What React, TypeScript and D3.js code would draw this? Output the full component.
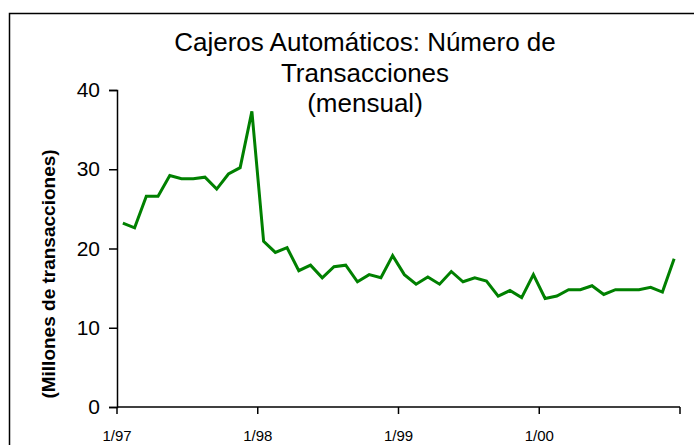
import { useEffect, useRef } from "react";
import * as d3 from "d3";

// monthly ATM transactions, millions, Jan 1997 - Dec 2000
const months = d3.range(48).map((i) => `${(i % 12) + 1}/${String(97 + Math.floor(i / 12)).slice(-2)}`);
const transactions = [
  23.2, 22.6, 26.6, 26.6, 29.2, 28.8, 28.8, 29.0, 27.5, 29.4, 30.2, 37.3,
  20.9, 19.5, 20.1, 17.2, 17.9, 16.3, 17.7, 17.9, 15.8, 16.7, 16.3, 19.1,
  16.7, 15.5, 16.4, 15.5, 17.1, 15.8, 16.3, 15.9, 14.0, 14.7, 13.8, 16.7,
  13.7, 14.0, 14.8, 14.8, 15.3, 14.2, 14.8, 14.8, 14.8, 15.1, 14.5, 18.7,
];
const xTickLabels = ["1/97", "1/98", "1/99", "1/00", ""];
const yTicks = [0, 10, 20, 30, 40];
const titleLines = ["Cajeros Automáticos: Número de", "Transacciones", "(mensual)"];

const FONT = "Liberation Sans, Arial, sans-serif";

export default function App() {
  const ref = useRef<SVGSVGElement>(null);

  useEffect(() => {
    const svg = d3.select(ref.current);
    svg.selectAll("*").remove();

    const left = 117, right = 680, top = 90, bottom = 407;

    // outer chart frame
    svg.append("rect")
      .attr("x", 9.5).attr("y", 13.5)
      .attr("width", 700).attr("height", 450)
      .attr("fill", "white").attr("stroke", "black").attr("stroke-width", 1.5);

    const x = d3.scaleBand().domain(months).range([left, right]).paddingInner(0).paddingOuter(0);
    const y = d3.scaleLinear().domain([0, 40]).range([bottom, top]);
    const step = x.step();

    // title
    svg.append("g").selectAll("text")
      .data(titleLines)
      .join("text")
      .attr("x", 365)
      .attr("y", (d, i) => 51 + i * 30.5)
      .attr("text-anchor", "middle")
      .attr("font-family", FONT)
      .attr("font-size", 26)
      .text((d) => d);

    // y axis
    const yAxis = svg.append("g").attr("transform", `translate(${left},0)`)
      .call(d3.axisLeft(y).tickValues(yTicks).tickSize(8).tickPadding(9).tickFormat(d3.format("d")));
    yAxis.select(".domain").attr("stroke-width", 1.5);
    yAxis.selectAll(".tick line").attr("stroke-width", 1.5);
    yAxis.selectAll("text")
      .attr("font-family", FONT)
      .attr("font-size", 21).attr("fill", "black");

    // x axis: ticks every 12 months, at category boundaries
    const tickIdx = [0, 12, 24, 36, 48];
    const xg = svg.append("g");
    xg.append("line")
      .attr("x1", left).attr("x2", right)
      .attr("y1", bottom).attr("y2", bottom)
      .attr("stroke", "black").attr("stroke-width", 1.5);
    xg.selectAll(".tk")
      .data(tickIdx)
      .join("line")
      .attr("x1", (d) => left + d * step).attr("x2", (d) => left + d * step)
      .attr("y1", bottom).attr("y2", bottom + 7)
      .attr("stroke", "black").attr("stroke-width", 1.5);
    xg.selectAll(".lbl")
      .data(tickIdx)
      .join("text")
      .attr("x", (d) => left + d * step)
      .attr("y", 440.5)
      .attr("text-anchor", "middle")
      .attr("font-family", FONT)
      .attr("font-size", 15)
      .text((d, i) => xTickLabels[i]);

    // y axis title
    svg.append("text")
      .attr("transform", `translate(55,274) rotate(-90)`)
      .attr("text-anchor", "middle")
      .attr("font-family", FONT)
      .attr("font-size", 19)
      .attr("font-weight", "bold")
      .text("(Millones de transacciones)");

    const line = d3.line<number>()
      .x((d, i) => (x(months[i]) ?? 0) + step / 2)
      .y((d) => y(d));

    svg.append("path")
      .datum(transactions)
      .attr("d", line)
      .attr("fill", "none")
      .attr("stroke", "#008000")
      .attr("stroke-width", 3)
      .attr("stroke-linejoin", "miter");
  }, []);

  return (
    <svg ref={ref} width={694} height={445}
      style={{ position: "absolute", left: 0, top: 0, background: "white" }} />
  );
}
